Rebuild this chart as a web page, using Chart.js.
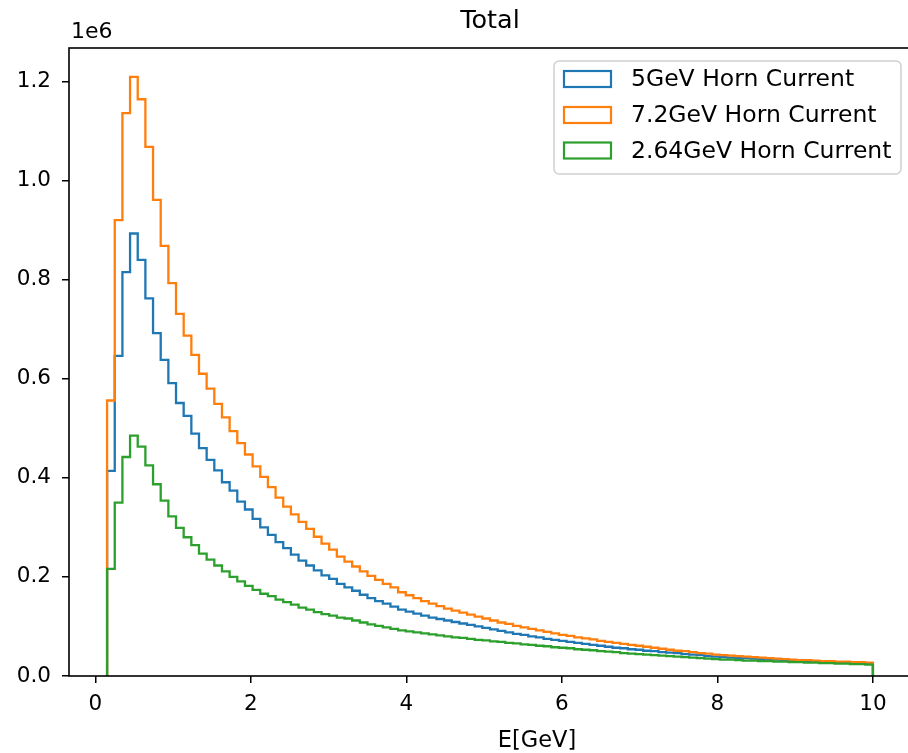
<!DOCTYPE html>
<html>
<head>
<meta charset="utf-8">
<title>Total</title>
<script src="https://cdn.jsdelivr.net/npm/chart.js@4.4.0/dist/chart.umd.min.js"></script>
<style>
  html, body { margin: 0; padding: 0; background: #fff; overflow: hidden; }
  #wrap { position: absolute; left: 0; top: 0; width: 915px; height: 753px; }
</style>
</head>
<body>
<div id="wrap"><canvas id="histChart" width="915" height="753"></canvas></div>
<script>
// Histogram: 100 bins from 0.15 to 10 GeV, counts in units of 1e6

const binStart = 0.15;
const binWidth = 0.0985;

const seriesNames = ['5GeV Horn Current', '7.2GeV Horn Current', '2.64GeV Horn Current'];
const seriesColors = ['#1f77b4', '#ff7f0e', '#2ca02c'];

const counts5GeV = [
    0.414, 0.646, 0.815, 0.893, 0.840, 0.762, 0.692, 0.638, 0.591, 0.551,
    0.525, 0.489, 0.460, 0.436, 0.415, 0.391, 0.374, 0.352, 0.336, 0.317,
    0.300, 0.285, 0.270, 0.258, 0.245, 0.233, 0.223, 0.213, 0.203, 0.196,
    0.186, 0.179, 0.172, 0.164, 0.157, 0.151, 0.146, 0.140, 0.134, 0.130,
    0.126, 0.122, 0.118, 0.115, 0.112, 0.109, 0.106, 0.103, 0.100, 0.097,
    0.094, 0.091, 0.088, 0.085, 0.083, 0.080, 0.078, 0.075, 0.073, 0.071,
    0.069, 0.067, 0.065, 0.063, 0.061, 0.059, 0.057, 0.056, 0.054, 0.053,
    0.051, 0.050, 0.048, 0.047, 0.046, 0.044, 0.043, 0.042, 0.040, 0.039,
    0.038, 0.037, 0.036, 0.036, 0.035, 0.034, 0.033, 0.033, 0.032, 0.031,
    0.031, 0.030, 0.029, 0.029, 0.028, 0.028, 0.027, 0.027, 0.026, 0.026
];

const counts7GeV = [
    0.556, 0.920, 1.136, 1.209, 1.164, 1.068, 0.961, 0.868, 0.793, 0.731,
    0.687, 0.648, 0.610, 0.580, 0.549, 0.522, 0.494, 0.470, 0.447, 0.423,
    0.402, 0.381, 0.360, 0.342, 0.326, 0.311, 0.297, 0.281, 0.267, 0.255,
    0.241, 0.231, 0.221, 0.211, 0.202, 0.194, 0.186, 0.179, 0.169, 0.163,
    0.157, 0.151, 0.146, 0.141, 0.136, 0.132, 0.128, 0.124, 0.120, 0.116,
    0.112, 0.108, 0.105, 0.101, 0.098, 0.095, 0.092, 0.089, 0.086, 0.083,
    0.081, 0.078, 0.076, 0.074, 0.071, 0.069, 0.067, 0.065, 0.063, 0.061,
    0.059, 0.057, 0.055, 0.053, 0.051, 0.050, 0.048, 0.046, 0.045, 0.043,
    0.042, 0.041, 0.040, 0.039, 0.038, 0.037, 0.036, 0.035, 0.034, 0.033,
    0.032, 0.032, 0.031, 0.030, 0.030, 0.029, 0.029, 0.028, 0.028, 0.027
];

const counts264GeV = [
    0.216, 0.350, 0.442, 0.485, 0.463, 0.425, 0.387, 0.354, 0.322, 0.299,
    0.280, 0.264, 0.247, 0.235, 0.223, 0.211, 0.200, 0.191, 0.182, 0.174,
    0.166, 0.161, 0.154, 0.149, 0.144, 0.138, 0.134, 0.129, 0.125, 0.122,
    0.118, 0.116, 0.112, 0.108, 0.104, 0.101, 0.098, 0.095, 0.092, 0.090,
    0.088, 0.086, 0.084, 0.082, 0.080, 0.078, 0.077, 0.075, 0.073, 0.072,
    0.070, 0.069, 0.067, 0.066, 0.064, 0.063, 0.061, 0.060, 0.058, 0.057,
    0.056, 0.054, 0.053, 0.052, 0.050, 0.049, 0.048, 0.046, 0.045, 0.044,
    0.043, 0.042, 0.041, 0.040, 0.039, 0.038, 0.037, 0.036, 0.035, 0.034,
    0.033, 0.033, 0.032, 0.031, 0.031, 0.030, 0.030, 0.029, 0.029, 0.028,
    0.028, 0.027, 0.027, 0.026, 0.026, 0.025, 0.025, 0.024, 0.024, 0.023
];

const xTicks = [0, 2, 4, 6, 8, 10];
const yTicks = [0, 0.2, 0.4, 0.6, 0.8, 1.0, 1.2];

const titleText = 'Total';
const xLabelText = 'E[GeV]';
const offsetText = '1e6';

const FONT = "'DejaVu Sans', sans-serif";

// outline of a step histogram: up at first edge, across every bin, down at last edge
function stepOutline(counts) {
    const pts = [{ x: binStart, y: 0 }, { x: binStart, y: counts[0] }];
    for (let i = 1; i < counts.length; i++) {
        pts.push({ x: binStart + i * binWidth, y: counts[i] });
    }
    const lastEdge = binStart + counts.length * binWidth;
    pts.push({ x: lastEdge, y: 0 });
    return pts;
}

function makeDataset(idx, counts, order) {
    return {
        label: seriesNames[idx],
        data: stepOutline(counts),
        borderColor: seriesColors[idx],
        borderWidth: 2.3,
        stepped: 'before',
        fill: false,
        pointRadius: 0,
        order: order
    };
}

// frame, title, offset text, x label and legend box like matplotlib
const decorPlugin = {
    id: 'decor',
    afterDraw(chart) {
        const ctx = chart.ctx;
        const a = chart.chartArea;
        ctx.save();

        ctx.strokeStyle = '#000';
        ctx.lineWidth = 1.6;
        ctx.strokeRect(a.left, a.top, a.right - a.left, a.bottom - a.top);

        ctx.fillStyle = '#000';
        ctx.textBaseline = 'middle';
        ctx.textAlign = 'center';
        ctx.font = '25.5px ' + FONT;
        ctx.fillText(titleText, (a.left + a.right) / 2, 21);

        ctx.font = '22.5px ' + FONT;
        ctx.fillText(xLabelText, 537, 741);

        ctx.textAlign = 'left';
        ctx.font = '22px ' + FONT;
        ctx.fillText(offsetText, a.left + 2, 32);

        // legend
        const lx = 554, ly = 61, lw = 347, lh = 113;
        ctx.beginPath();
        ctx.roundRect(lx, ly, lw, lh, 5);
        ctx.fillStyle = 'rgba(255,255,255,0.8)';
        ctx.fill();
        ctx.strokeStyle = '#d0d0d0';
        ctx.lineWidth = 1.5;
        ctx.stroke();

        const rowCenters = [79, 115, 150.5];
        ctx.font = '23.5px ' + FONT;
        seriesNames.forEach((name, i) => {
            ctx.strokeStyle = seriesColors[i];
            ctx.lineWidth = 2.2;
            ctx.strokeRect(564, rowCenters[i] - 8, 47, 16);
            ctx.fillStyle = '#000';
            ctx.fillText(name, 631, rowCenters[i] + 1);
        });

        ctx.restore();
    }
};

const config = {
    type: 'line',
    data: {
        datasets: [
            makeDataset(0, counts5GeV, 2),
            makeDataset(1, counts7GeV, 1),
            makeDataset(2, counts264GeV, 0)
        ]
    },
    options: {
        responsive: false,
        animation: false,
        layout: {
            padding: { top: 48, right: 4, left: 0, bottom: 0 }
        },
        plugins: {
            legend: { display: false },
            title: { display: false },
            tooltip: { enabled: false }
        },
        scales: {
            x: {
                type: 'linear',
                min: -0.34,
                max: 10.49,
                afterBuildTicks: (scale) => { scale.ticks = xTicks.map(v => ({ value: v })); },
                afterFit: (scale) => { scale.height = 77; },
                border: { display: false },
                grid: {
                    drawOnChartArea: false,
                    drawTicks: true,
                    tickLength: 7,
                    lineWidth: 1.5,
                    color: '#000'
                },
                ticks: {
                    color: '#000',
                    padding: 9,
                    maxRotation: 0,
                    font: { family: FONT, size: 21.5 },
                    callback: (v) => String(v)
                }
            },
            y: {
                type: 'linear',
                min: 0,
                max: 1.2674,
                afterBuildTicks: (scale) => { scale.ticks = yTicks.map(v => ({ value: v })); },
                afterFit: (scale) => { scale.width = 69; },
                border: { display: false },
                grid: {
                    drawOnChartArea: false,
                    drawTicks: true,
                    tickLength: 7,
                    lineWidth: 1.5,
                    color: '#000'
                },
                ticks: {
                    color: '#000',
                    padding: 11,
                    font: { family: FONT, size: 21.5 },
                    callback: (v) => v.toFixed(1)
                }
            }
        }
    },
    plugins: [decorPlugin]
};

new Chart(document.getElementById('histChart'), config);
</script>
</body>
</html>
